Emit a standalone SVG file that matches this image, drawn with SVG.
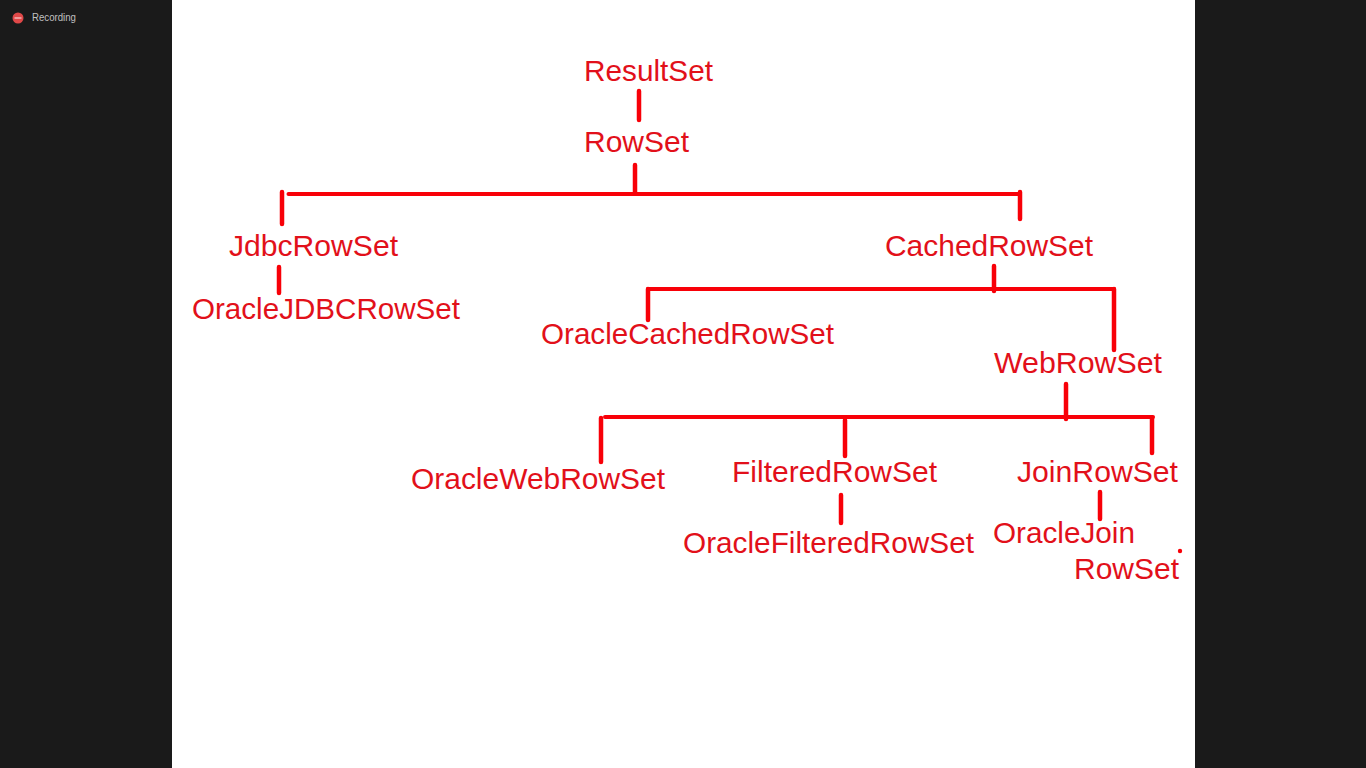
<svg xmlns="http://www.w3.org/2000/svg" width="1366" height="768" viewBox="0 0 1366 768">
<style>
.t{font-family:"Liberation Sans",Arial,sans-serif;font-size:29.5px;fill:#e2101a}
.c{stroke:#f80008;stroke-width:4.5;stroke-linecap:round;fill:none}
.h{stroke-width:4}
</style>
<rect width="1366" height="768" fill="#1a1a1a"/>
<rect x="172" y="0" width="1023" height="768" fill="#ffffff"/>
<g id="recording"><circle cx="18" cy="18" r="5.5" fill="#e04848"/><rect x="14.5" y="17" width="7" height="2" fill="#ee9a9a"/><text x="32" y="21" font-family="'Liberation Sans',Arial,sans-serif" font-size="10.5" fill="#c0c0c0" textLength="44" lengthAdjust="spacingAndGlyphs">Recording</text></g>
<g id="connectors">
<path class="c" d="M639 91V120M635 165V193M282 192V224M1020 192V219M279 267V293"/>
<path class="c h" d="M288.500 194H1020"/>
<path class="c" d="M994 266V291M648 289V320M1114 289V350"/>
<path class="c h" d="M648 289H1114"/>
<path class="c" d="M1066 384V419M601 418V462M845 420V456M1152 418V453"/>
<path class="c h" d="M605 417H1153"/>
<path class="c" d="M841 495V523M1100 492V519"/>
</g>
<g id="ResultSet"><text class="t" x="584" y="81" textLength="129" lengthAdjust="spacingAndGlyphs">ResultSet</text></g>
<g id="RowSet"><text class="t" x="584" y="152" textLength="105" lengthAdjust="spacingAndGlyphs">RowSet</text></g>
<g id="JdbcRowSet"><text class="t" x="229" y="256" textLength="169" lengthAdjust="spacingAndGlyphs">JdbcRowSet</text></g>
<g id="CachedRowSet"><text class="t" x="885" y="256" textLength="208" lengthAdjust="spacingAndGlyphs">CachedRowSet</text></g>
<g id="OracleJDBCRowSet"><text class="t" x="192" y="319" textLength="268" lengthAdjust="spacingAndGlyphs">OracleJDBCRowSet</text></g>
<g id="OracleCachedRowSet"><text class="t" x="541" y="344" textLength="293" lengthAdjust="spacingAndGlyphs">OracleCachedRowSet</text></g>
<g id="WebRowSet"><text class="t" x="994" y="373" textLength="168" lengthAdjust="spacingAndGlyphs">WebRowSet</text></g>
<g id="OracleWebRowSet"><text class="t" x="411" y="489" textLength="254" lengthAdjust="spacingAndGlyphs">OracleWebRowSet</text></g>
<g id="FilteredRowSet"><text class="t" x="732" y="482" textLength="205" lengthAdjust="spacingAndGlyphs">FilteredRowSet</text></g>
<g id="JoinRowSet"><text class="t" x="1017" y="482" textLength="161" lengthAdjust="spacingAndGlyphs">JoinRowSet</text></g>
<g id="OracleFilteredRowSet"><text class="t" x="683" y="553" textLength="291" lengthAdjust="spacingAndGlyphs">OracleFilteredRowSet</text></g>
<g id="OracleJoinRowSet"><text class="t" x="993" y="543" textLength="142" lengthAdjust="spacingAndGlyphs">OracleJoin</text><text class="t" x="1074" y="579" textLength="105" lengthAdjust="spacingAndGlyphs">RowSet</text></g>
<circle cx="1180" cy="551" r="2.2" fill="#f80008"/>
</svg>
